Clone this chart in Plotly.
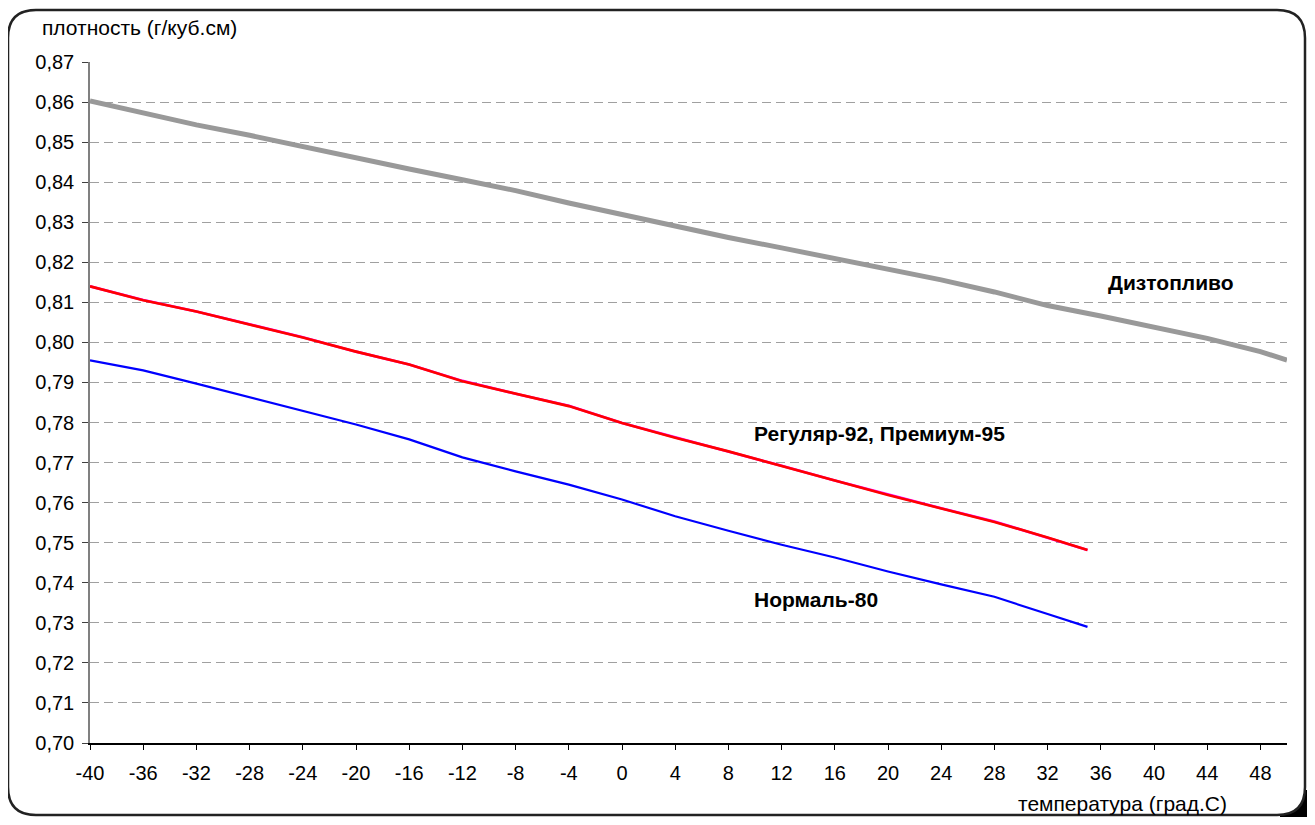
import plotly.graph_objects as go

# ---- data ----
temp_diesel = [-40, -36, -32, -28, -24, -20, -16, -12, -8, -4, 0, 4, 8, 12, 16, 20, 24, 28, 32, 36, 40, 44, 48, 50]
dens_diesel = [0.8603, 0.8572, 0.8543, 0.8517, 0.8488, 0.8459, 0.8433, 0.8406, 0.8379, 0.8348, 0.8319, 0.8290,
               0.8262, 0.8236, 0.8210, 0.8183, 0.8156, 0.8126, 0.8092, 0.8066, 0.8037, 0.8010, 0.7977, 0.7956]

temp_gas = [-40, -36, -32, -28, -24, -20, -16, -12, -8, -4, 0, 4, 8, 12, 16, 20, 24, 28, 32, 35]
dens_reg92 = [0.8140, 0.8105, 0.8077, 0.8045, 0.8012, 0.7977, 0.7945, 0.7903, 0.7872, 0.7841, 0.7799, 0.7762,
              0.7728, 0.7691, 0.7655, 0.7619, 0.7586, 0.7552, 0.7513, 0.7482]
dens_prem95 = [0.8140, 0.8106, 0.8077, 0.8045, 0.8013, 0.7977, 0.7945, 0.7904, 0.7872, 0.7842, 0.7799, 0.7763,
               0.7728, 0.7692, 0.7655, 0.7620, 0.7586, 0.7553, 0.7513, 0.7482]
dens_norm80 = [0.7955, 0.7930, 0.7897, 0.7863, 0.7828, 0.7795, 0.7758, 0.7713, 0.7678, 0.7645, 0.7608, 0.7566,
               0.7530, 0.7495, 0.7463, 0.7428, 0.7396, 0.7365, 0.7322, 0.7290]

x_ticks = list(range(-40, 49, 4))
x_ticktext = [str(v) for v in x_ticks]
y_ticks = [0.70, 0.71, 0.72, 0.73, 0.74, 0.75, 0.76, 0.77, 0.78, 0.79, 0.80,
           0.81, 0.82, 0.83, 0.84, 0.85, 0.86, 0.87]
y_ticktext = ["0,70", "0,71", "0,72", "0,73", "0,74", "0,75", "0,76", "0,77", "0,78", "0,79", "0,80",
              "0,81", "0,82", "0,83", "0,84", "0,85", "0,86", "0,87"]

labels = ["Дизтопливо", "Регуляр-92, Премиум-95", "Нормаль-80"]

# ---- geometry (figure pixels; the page adds an 8px body margin) ----
OFF = 8
W, H = 1315 - 2 * OFF, 825 - 2 * OFF
L, T = 90 - OFF, 62 - OFF
R = W - (1287 - OFF)
B = H - (743 - OFF)
PW, PH = W - L - R, H - T - B
FONT = "Liberation Sans, Arial, sans-serif"


def px2paper(x, y):
    """page pixel -> paper coords"""
    x -= OFF
    y -= OFF
    return (x - L) / PW, (H - B - y) / PH


def rounded_rect(x0, y0, x1, y1, r):
    def P(x, y):
        px, py = px2paper(x, y)
        return f"{px:.5f},{py:.5f}"
    d = f"M {P(x0 + r, y0)} L {P(x1 - r, y0)} Q {P(x1, y0)} {P(x1, y0 + r)} "
    d += f"L {P(x1, y1 - r)} Q {P(x1, y1)} {P(x1 - r, y1)} "
    d += f"L {P(x0 + r, y1)} Q {P(x0, y1)} {P(x0, y1 - r)} "
    d += f"L {P(x0, y0 + r)} Q {P(x0, y0)} {P(x0 + r, y0)} Z"
    return d


fig = go.Figure()
fig.add_trace(go.Scatter(x=temp_diesel, y=dens_diesel, mode="lines", name=labels[0],
                         line=dict(color="#999999", width=5)))
fig.add_trace(go.Scatter(x=temp_gas, y=dens_prem95, mode="lines", name="Премиум-95",
                         line=dict(color="#ff00ff", width=2.6)))
fig.add_trace(go.Scatter(x=temp_gas, y=dens_reg92, mode="lines", name="Регуляр-92",
                         line=dict(color="#ff0000", width=2.6)))
fig.add_trace(go.Scatter(x=temp_gas, y=dens_norm80, mode="lines", name=labels[2],
                         line=dict(color="#0000ff", width=2.2)))

fig.update_layout(
    width=W, height=H,
    margin=dict(l=L, r=R, t=T, b=B),
    paper_bgcolor="white", plot_bgcolor="white",
    showlegend=False,
    font=dict(family=FONT, size=20, color="black"),
)

fig.update_xaxes(
    range=[-40, 50], tickvals=x_ticks, ticktext=x_ticktext,
    showgrid=False, zeroline=False,
    showline=True, linecolor="black", linewidth=1.5,
    ticks="outside", ticklen=5, tickcolor="black", tickwidth=1,
    tickfont=dict(family=FONT, size=20, color="black"),
    ticklabelstandoff=6,
)
fig.update_yaxes(
    range=[0.70, 0.87], tickvals=y_ticks, ticktext=y_ticktext,
    showgrid=True, gridcolor="#a0a0a0", gridwidth=1, griddash="9px,5px",
    zeroline=False,
    showline=True, linecolor="#808080", linewidth=1.5,
    ticks="outside", ticklen=6, tickcolor="#404040", tickwidth=1,
    tickfont=dict(family=FONT, size=20, color="black"),
    ticklabelstandoff=4,
)

# dark shadow visible outside the bottom-right rounded corner
x0p, y0p = px2paper(1280, 790)
x1p, y1p = px2paper(1330, 840)
fig.add_shape(type="rect", xref="paper", yref="paper", x0=x0p, y0=y1p, x1=x1p, y1=y0p,
              line=dict(width=0), fillcolor="black", layer="below")
# chart-area rounded border (page coords)
fig.add_shape(type="path", xref="paper", yref="paper",
              path=rounded_rect(8, 10, 1305, 815, 28),
              line=dict(color="#222222", width=2.5), fillcolor="white", layer="below")

# axis titles
tx, ty = px2paper(40, 27)
fig.add_annotation(x=tx, y=ty, xref="paper", yref="paper", text="плотность (г/куб.см)",
                   showarrow=False, xanchor="left", yanchor="middle",
                   font=dict(family=FONT, size=21, color="black"))
tx, ty = px2paper(1229, 803)
fig.add_annotation(x=tx, y=ty, xref="paper", yref="paper", text="температура (град.С)",
                   showarrow=False, xanchor="right", yanchor="middle",
                   font=dict(family=FONT, size=21, color="black"))

# series labels
for (xp, yp), txt in zip([(1106, 282), (752, 433), (752, 599)], labels):
    ax, ay = px2paper(xp, yp)
    fig.add_annotation(x=ax, y=ay, xref="paper", yref="paper", text=f"<b>{txt}</b>",
                       showarrow=False, xanchor="left", yanchor="middle",
                       font=dict(family=FONT, size=21, color="black"))

fig.write_html("out.html")
